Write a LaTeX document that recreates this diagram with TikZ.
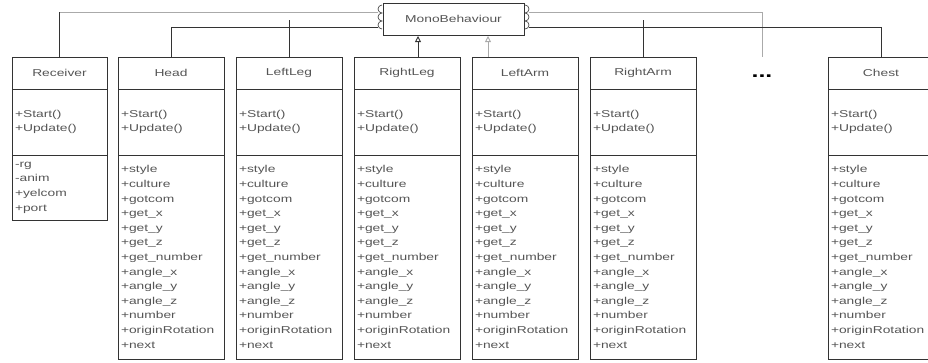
\documentclass[tikz,border=0pt]{standalone}
\usepackage{fontspec}
\setmainfont{Liberation Sans}[FakeStretch=1.38]
\usetikzlibrary{positioning, arrows.meta}

\definecolor{boxline}{HTML}{333333}
\definecolor{txt}{HTML}{555555}
\definecolor{faint}{HTML}{AAAAAA}

\newcommand{\partmethods}{+Start()\\+Update()}
\newcommand{\partattrs}{+style\\+culture\\+gotcom\\+get\_x\\+get\_y\\+get\_z\\+get\_number\\+angle\_x\\+angle\_y\\+angle\_z\\+number\\+originRotation\\+next}

\begin{document}
\begin{tikzpicture}[x=1pt, y=-1pt, node distance=12pt, >=Latex,
        font=\fontsize{10}{14.6}\selectfont,
        title/.style = {draw=boxline, line width=0.9pt, fill=white, text=txt, minimum width=106pt, minimum height=32pt, inner sep=0pt, outer sep=0pt},
        part/.style = {draw=boxline, line width=0.9pt, text=txt, text width=100pt, inner xsep=3pt, inner ysep=0pt, align=left, outer sep=0pt},
        link/.style = {draw=boxline, line width=0.9pt},
        faintlink/.style = {draw=faint, line width=0.9pt},
        inherit/.style = {draw=boxline, line width=0.9pt, -{Triangle[open, length=6pt, width=6pt]}},
        stub/.style = {draw=boxline, line width=0.6pt},
        ]
        \useasboundingbox (0,0) rectangle (928,362);
        \clip (0,0) rectangle (928,362);

        % base class
        \node [title, minimum width=141pt] (mono) at (453.5,19) {MonoBehaviour};
        \draw [stub] (382,5) arc[start angle=270, end angle=90, radius=4] arc[start angle=270, end angle=90, radius=4] arc[start angle=270, end angle=90, radius=4];
        \draw [stub] (525,5) arc[start angle=-90, end angle=90, radius=4] arc[start angle=-90, end angle=90, radius=4] arc[start angle=-90, end angle=90, radius=4];
        \coordinate (mlu) at (378,12);
        \coordinate (mll) at (378,27);
        \coordinate (mru) at (529,12);
        \coordinate (mrl) at (529,27);
        \coordinate (ihl) at (418,36);
        \coordinate (ihr) at (488,36);

        % classes
        \node [title, minimum width=95pt, anchor=north west] (receiver) at (12,57) {Receiver};
        \node [part, text width=89pt, minimum height=66pt, below=0pt of receiver] (receiver-m) {\partmethods};
        \node [part, text width=89pt, minimum height=65pt, below=0pt of receiver-m] (receiver-a) {-rg\\-anim\\+yelcom\\+port};

        \node [title, right=11pt of receiver] (head) {Head};
        \node [part, minimum height=66pt, below=0pt of head] (head-m) {\partmethods};
        \node [part, minimum height=204pt, below=0pt of head-m] (head-a) {\partattrs};

        \node [title, right=of head] (leftleg) {LeftLeg};
        \node [part, minimum height=66pt, below=0pt of leftleg] (leftleg-m) {\partmethods};
        \node [part, minimum height=204pt, below=0pt of leftleg-m] (leftleg-a) {\partattrs};

        \node [title, right=of leftleg] (rightleg) {RightLeg};
        \node [part, minimum height=66pt, below=0pt of rightleg] (rightleg-m) {\partmethods};
        \node [part, minimum height=204pt, below=0pt of rightleg-m] (rightleg-a) {\partattrs};

        \node [title, right=of rightleg] (leftarm) {LeftArm};
        \node [part, minimum height=66pt, below=0pt of leftarm] (leftarm-m) {\partmethods};
        \node [part, minimum height=204pt, below=0pt of leftarm-m] (leftarm-a) {\partattrs};

        \node [title, right=of leftarm] (rightarm) {RightArm};
        \node [part, minimum height=66pt, below=0pt of rightarm] (rightarm-m) {\partmethods};
        \node [part, minimum height=204pt, below=0pt of rightarm-m] (rightarm-a) {\partattrs};

        \node [title, right=132pt of rightarm] (chest) {Chest};
        \node [part, minimum height=66pt, below=0pt of chest] (chest-m) {\partmethods};
        \node [part, minimum height=204pt, below=0pt of chest-m] (chest-a) {\partattrs};

        \node [text=black, font=\fontsize{18}{18}\bfseries\selectfont] (dots) at (762,76) {...};
        \coordinate (dotstop) at (762,57);

        % connectors
        \draw [faintlink] (receiver.north |- mlu) -- (mlu);
        \draw [link] (receiver.north) -- (receiver.north |- mlu);
        \draw [link] (head.north) |- (mll);
        \draw [link] (leftleg.north) -- (leftleg.north |- 0,20);
        \draw [inherit] (rightleg.north -| ihl) -- (ihl);
        \draw [inherit, draw=faint] (leftarm.north -| ihr) -- (ihr);
        \draw [link] (rightarm.north) -- (rightarm.north |- 0,20);
        \draw [faintlink] (mru) -| (dotstop);
        \draw [link] (mrl) -| (chest.north);

    \end{tikzpicture}
\end{document}
